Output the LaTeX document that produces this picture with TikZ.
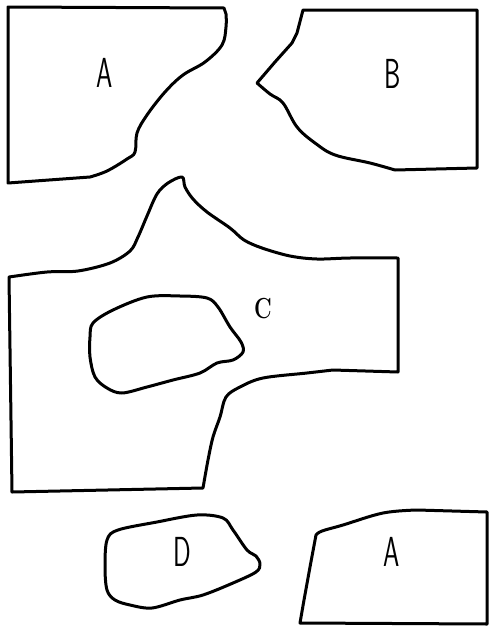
\documentclass[tikz,border=0pt]{standalone}
\begin{document}
\begin{tikzpicture}[x=1pt,y=-1pt,
  outline/.style={draw=black,line width=3pt,line join=round,line cap=round},
  lettertag/.style={font=\fontsize{42}{42}\selectfont\sffamily,xscale=0.62,inner sep=0pt,text=black},
  smalltag/.style={font=\fontsize{29}{29}\selectfont\rmfamily\bfseries,xscale=0.75,inner sep=0pt,text=black}]
\useasboundingbox[fill=white] (0,0) rectangle (489,627);
% A top-left
\draw[outline] (8,7) -- (224,8) -- plot[smooth,tension=0.6] coordinates {(226,14) (226,27) (222,45) (205,62) (183,75) (165,92) (147,115) (137,133) (135,152) (127,159) (107,171) (90,177)} -- (8,183) -- cycle;
\node[lettertag] (labA1) at (105,73) {A};
% B top-right
\draw[outline] (303,10) -- (477,10) -- (477,168) -- plot[smooth,tension=0.6] coordinates {(395,170) (370,163) (335,155) (315,143) (297,127) (283,103) (270,94) (257,83)} -- (275,62) -- (292,43) -- (297,33) -- cycle;
\node[lettertag] (labB) at (393,74) {B};
% C
\draw[outline] plot[smooth,tension=0.55] coordinates {(9,277) (47,272) (78,271) (110,263) (130,251) (138,237) (147,216) (157,194) (168,183) (182,177) (185,187) (193,199) (207,212) (230,228) (244,240) (262,248) (290,256) (317,259) (350,258) (398,258)} -- (398,372) -- plot[smooth,tension=0.55] coordinates {(333,370) (307,373) (263,378) (240,387) (226,397) (220,417) (213,437) (208,460) (203,488)} -- (12,492) -- cycle;
\draw[outline] plot[smooth cycle,tension=0.55] coordinates {(93,323) (113,310) (147,297) (180,296) (207,298) (218,307) (230,327) (241,342) (243,352) (233,360) (217,363) (200,373) (173,380) (147,387) (122,393) (107,388) (95,377) (90,357) (90,337)};
\node[smalltag] (labC) at (263,309) {C};
% D
\draw[outline] plot[smooth cycle,tension=0.55] coordinates {(107,540) (118,530) (157,522) (197,515) (223,518) (233,530) (247,550) (256,556) (260,564) (256,572) (233,583) (203,595) (180,600) (152,608) (130,605) (115,600) (107,590) (105,567)};
\node[lettertag] (labD) at (182,552) {D};
% A bottom-right
\draw[outline] (300,623) -- (304,600) -- (310,567) -- plot[smooth,tension=0.6] coordinates {(316,535) (322,531) (343,525) (383,513) (417,510)} -- (487,512) -- (487,624) -- cycle;
\node[lettertag] (labA2) at (392,552) {A};
\end{tikzpicture}
\end{document}
